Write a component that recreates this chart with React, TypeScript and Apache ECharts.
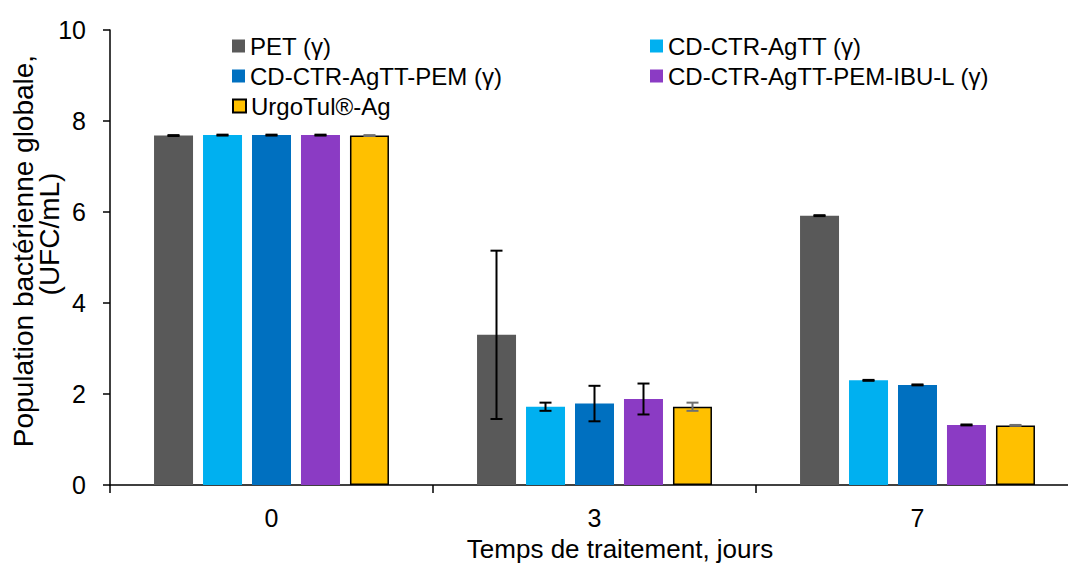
import React, { useEffect, useRef } from "react";
import * as echarts from "echarts";

const categories = ["0", "3", "7"];
const seriesNames = [
  "PET (γ)",
  "CD-CTR-AgTT (γ)",
  "CD-CTR-AgTT-PEM (γ)",
  "CD-CTR-AgTT-PEM-IBU-L (γ)",
  "UrgoTul®-Ag",
];
const petValues = [7.68, 3.3, 5.92];
const ctrValues = [7.69, 1.72, 2.3];
const pemValues = [7.69, 1.79, 2.2];
const ibuValues = [7.69, 1.89, 1.32];
const urgoValues = [7.68, 1.72, 1.31];
const petErr = [0.01, 1.85, 0.01];
const ctrErr = [0.01, 0.09, 0.01];
const pemErr = [0.01, 0.39, 0.01];
const ibuErr = [0.01, 0.34, 0.01];
const urgoErr = [0.01, 0.09, 0.01];
const yTicks = [0, 2, 4, 6, 8, 10];

const colors = ["#595959", "#00B0F0", "#0070C0", "#8B3BC4", "#FFC000"];
const FONT = "'Liberation Sans', Arial, sans-serif";

export default function App() {
  const ref = useRef<HTMLDivElement>(null);
  useEffect(() => {
    if (!ref.current) return;
    const chart = echarts.init(ref.current, undefined, { renderer: "svg" });
    const values = [petValues, ctrValues, pemValues, ibuValues, urgoValues];
    const errs = [petErr, ctrErr, pemErr, ibuErr, urgoErr];
    const barWidth = 39;
    const step = 49;

    const barSeries = values.map((v, i) => ({
      type: "bar",
      name: seriesNames[i],
      data: v,
      barWidth,
      barGap: "25.6%",
      itemStyle: {
        color: colors[i],
        borderColor: i === 4 ? "#000" : colors[i],
        borderWidth: i === 4 ? 1.5 : 0,
      },
      z: 2,
    }));

    const errSeries = values.map((v, i) => ({
      type: "custom",
      name: seriesNames[i] + " err",
      z: 5,
      silent: true,
      data: v.map((val, c) => [c, val - errs[i][c], val + errs[i][c]]),
      renderItem: (params: any, api: any) => {
        const c = api.value(0);
        const lo = api.coord([c, api.value(1)]);
        const hi = api.coord([c, api.value(2)]);
        const x = lo[0] + (i - 2) * step;
        const hw = 6;
        const stroke = i === 4 ? "#707070" : "#000";
        const lw = 2;
        return {
          type: "group",
          children: [
            { type: "line", shape: { x1: x, y1: lo[1], x2: x, y2: hi[1] }, style: { stroke, lineWidth: lw } },
            { type: "line", shape: { x1: x - hw, y1: lo[1], x2: x + hw, y2: lo[1] }, style: { stroke, lineWidth: lw } },
            { type: "line", shape: { x1: x - hw, y1: hi[1], x2: x + hw, y2: hi[1] }, style: { stroke, lineWidth: lw } },
          ],
        };
      },
    }));

    const legendPos = [
      { left: 232, top: 33 },
      { left: 650, top: 33 },
      { left: 232, top: 63 },
      { left: 650, top: 63 },
      { left: 232, top: 93 },
    ];

    chart.setOption({
      animation: false,
      textStyle: { fontFamily: FONT },
      legend: seriesNames.map((n, i) => ({
        data: [n],
        left: legendPos[i].left,
        top: legendPos[i].top,
        padding: 0,
        itemWidth: 13,
        itemHeight: 13,
        itemGap: 5,
        icon: "rect",
        textStyle: { fontSize: 24, color: "#000", fontFamily: FONT, lineHeight: 26 },
      })),
      grid: { left: 110, top: 30, width: 969, height: 455 },
      xAxis: {
        type: "category",
        data: categories,
        boundaryGap: true,
        axisLine: { lineStyle: { color: "#000", width: 1.5 } },
        axisTick: { show: true, length: 8, lineStyle: { color: "#000", width: 1.5 } },
        axisLabel: { fontSize: 25, color: "#000", margin: 20, fontFamily: FONT },
      },
      yAxis: {
        type: "value",
        min: yTicks[0],
        max: yTicks[yTicks.length - 1],
        interval: 2,
        splitLine: { show: false },
        axisLine: { show: true, lineStyle: { color: "#000", width: 1.5 } },
        axisTick: { show: true, length: 7, lineStyle: { color: "#000", width: 1.5 } },
        axisLabel: { fontSize: 25, color: "#000", margin: 24, fontFamily: FONT },
      },
      graphic: [
        {
          type: "text",
          x: 620,
          y: 549,
          style: {
            text: "Temps de traitement, jours",
            fontSize: 26,
            fontFamily: FONT,
            fill: "#000",
            textAlign: "center",
            textVerticalAlign: "middle",
          },
        },
        {
          type: "text",
          x: 23,
          y: 251,
          rotation: Math.PI / 2,
          style: {
            text: "Population bactérienne globale,",
            fontSize: 28,
            fontFamily: FONT,
            fill: "#000",
            textAlign: "center",
            textVerticalAlign: "middle",
          },
        },
        {
          type: "text",
          x: 49,
          y: 234,
          rotation: Math.PI / 2,
          style: {
            text: "(UFC/mL)",
            fontSize: 28,
            fontFamily: FONT,
            fill: "#000",
            textAlign: "center",
            textVerticalAlign: "middle",
          },
        },
      ],
      series: [...barSeries, ...errSeries],
    });
    return () => chart.dispose();
  }, []);
  return (
    <div style={{ position: "absolute", left: 0, top: 0, width: 1068, height: 565, overflow: "hidden", background: "#fff" }}>
      <div ref={ref} style={{ width: 1085, height: 565 }} />
    </div>
  );
}
